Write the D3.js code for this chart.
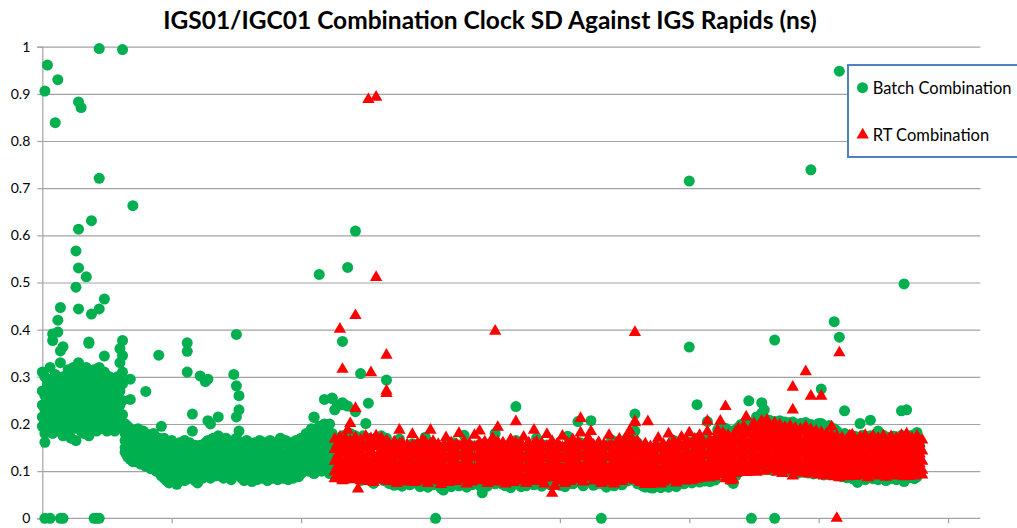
<!DOCTYPE html>
<html>
<head>
<meta charset="utf-8">
<script src="https://cdn.jsdelivr.net/npm/d3@7"></script>
<style>
  html, body { margin: 0; padding: 0; background: #fff; }
  svg { display: block; }
</style>
</head>
<body>
<svg id="chart" width="1017" height="528"></svg>
<script>
// Daily clock SD, in picoseconds (1000 ps = 1 ns).
// Each row: [day, value, value, ...] — one value per satellite shown for that day.
const batchRows = [
[0,310,270,240,215,195],[1,300,260,230,205,180,161,906,0],[2,285,250,225,200,185,961],[3,320,275,245,220,190,0],
[4,295,265,235,210,180,391,377],[5,305,280,250,225,200,839],[6,290,260,230,215,185,930,420,395],[7,330,285,255,220,195,447,355,0],
[8,300,270,240,210,175,364,0],[9,280,255,230,205,185],[10,315,290,250,225,200],[11,295,265,235,210,170],
[12,320,275,245,215,190],[13,300,280,250,220,165,567,490],[14,330,290,255,230,200,883,613,531,444],[15,310,270,240,215,185,871],
[16,295,260,235,205,180],[17,320,285,250,220,195,512],[18,305,265,230,210,175,374,371],[19,290,270,245,215,190,631,433],
[20,315,280,250,225,200,0],[21,300,260,235,210,185,0],[22,320,285,255,230,200,996,721,444,0],[23,295,270,240,215,190],
[24,310,280,250,220,195,465,344],[25,285,260,235,210,185],[26,300,270,245,220,200],[27,290,265,240,215,195],
[28,280,255,230,210,185],[29,300,270,250,225,200],[30,360,330,300,270,240,210],[31,377,345,310,285,250,220,190,994],
[32,200,180,165,150,140],[33,195,175,160,145,130],[34,295,252,190,170,150,135,125],[35,185,165,150,135,120,663],
[36,180,160,145,130,120],[37,190,170,150,140,125],[38,175,160,145,130,115],[39,185,165,150,135,120],
[40,269,180,160,140,125,110],[41,175,155,140,125,110],[42,170,150,135,120,105],[43,180,160,140,125,110],
[44,165,150,135,120,100],[45,346,170,145,130,115,100],[46,195,160,130,110,90],[47,170,145,120,100,85],
[48,160,135,115,95,80],[49,150,130,110,90,75],[50,165,140,120,100,85],[51,155,135,115,95,80],
[52,145,125,105,90,72],[53,160,135,115,95,80],[54,150,130,110,95,85],[55,165,140,120,100,80],
[56,372,354,310,155,130,110,90],[57,160,140,120,100,85],[58,221,185,150,125,105,90],[59,155,130,110,95,80],
[60,150,125,105,90,75],[61,302,155,130,110,90],[62,150,125,105,85],[63,290,160,135,115,95],
[64,295,207,165,140,115,95],[65,200,150,125,100,85],[66,170,140,115,95],[67,160,130,110,90],
[68,215,175,145,120,100],[69,165,135,110,90],[70,155,130,105,85],[71,170,140,115,95],
[72,160,130,110,88],[73,150,125,100,82],[74,305,165,135,110,90],[75,390,281,215,170,140,115,95],
[76,260,230,185,150,120,100],[77,160,130,105,85],[78,150,125,100,80],[79,165,135,110,90],
[80,155,125,105,85],[81,145,120,100,78],[82,160,130,110,90],[83,150,125,100,82],
[84,165,140,115,95],[85,155,130,105,85],[86,160,135,110,90],[87,150,120,100,80],
[88,165,140,115,92],[89,155,125,105,85],[90,160,130,110,88],[91,150,125,100,82],
[92,170,140,115,95],[93,160,130,105,85],[94,165,135,110,90],[95,155,125,100,82],
[96,160,135,110,90],[97,150,125,105,85],[98,165,140,115,95],[99,160,130,108,88],
[100,170,140,115,95],[101,166,150,125,100],[102,180,150,125,105],[103,175,145,120,100],
[104,190,160,130,105],[105,215,214,170,140,115,95],[106,185,155,125,100],[107,517,195,160,130,105],
[108,180,150,125,100],[109,252,200,165,135,110],[110,190,160,130,105],[111,200,170,140,115,95],
[112,255,254,180,150,120,100],[113,230,165,120,90],[114,240,170,125,95],[115,240,160,115,85],
[116,375,245,175,120,90],[117,240,165,125,95],[118,532,238,170,120,85],[119,180,130,95],
[120,165,120,90],[121,609,226,175,125,90],[122,170,120,85],[123,307,160,115,80],
[124,175,125,90],[125,201,160,115,85],[126,244,170,120,90],[127,165,115,80],
[128,160,115,74],[129,170,120,88],[130,165,115,85],[131,175,125,90],
[132,160,115,80],[133,293,170,120,85],
[134,150,118,90,74],[135,142,108,80],[136,155,128,97,70],[137,146,114,86,76],
[138,168,123,93],[139,148,105,80,68],[140,140,127,96,77],[141,153,116,88],
[142,145,102,82,71],[143,158,132,94,75],[144,141,111,85],[145,150,121,91,73],
[146,144,106,79,67],[147,152,128,97],[148,172,115,87,74],[149,139,109,83,66],
[150,149,125,92],[151,146,103,81,71],[152,0,155,119,89],[153,142,131,95,76],
[154,150,107,80,64],[155,146,122,90,60],[156,153,112,84],[157,140,129,98,73],
[158,151,104,82,67],[159,160,117,89],[160,144,126,93,75],[161,148,108,81,69],
[162,142,120,88],[163,176,113,91,74],[164,139,101,78,66],[165,150,127,96],
[166,145,110,84,71],[167,154,124,92,77],[168,141,105,80],[169,148,119,87,70],
[170,146,114,86,54],[171,156,130,95],[172,143,107,82,68],[173,158,121,90,75],
[174,147,111,84],[175,180,126,93,73],[176,149,116,88,78],[177,142,104,81],
[178,155,128,97,72],[179,146,113,85,69],[180,151,120,91],[181,140,106,80,65],
[182,157,124,94,76],[183,237,165,118,89],[184,152,129,98,79],[185,145,109,83,67],
[186,150,123,92],[187,141,105,79,69],[188,149,117,88,74],[189,139,102,77],
[190,146,126,95,71],[191,170,114,86,77],[192,142,108,82],[193,148,121,91,68],
[194,155,116,87,75],[195,143,103,80],[196,150,127,94,72],[197,140,110,83,70],
[198,146,119,89],[199,153,112,85,76],[200,145,124,93,70],[201,149,107,81],
[202,141,118,88,67],[203,174,130,97,79],[204,147,111,84],[205,151,122,91,73],
[206,156,115,87,78],[207,205,150,128,95],[208,160,119,89,75],[209,150,109,82,69],
[210,145,124,93],[211,154,116,88,77],[212,207,158,127,96],[213,148,111,84,70],
[214,142,104,79],[215,151,120,90,74],[216,0,145,113,85],[217,150,125,94,72],
[218,141,106,80,66],[219,147,118,89],[220,166,128,96,77],[221,144,109,83,69],
[222,149,121,91],[223,156,114,86,76],[224,146,126,95,71],[225,152,112,85],
[226,170,123,92,79],[227,176,130,98,81],[228,168,118,89],[229,221,185,127,94,83],
[230,160,115,87,73],[231,150,122,91],[232,144,108,80,69],[233,149,117,86,66],
[234,142,103,76],[235,147,114,84,65],[236,140,106,78,64],[237,145,119,88],
[238,151,110,82,71],[239,139,116,85,65],[240,144,105,79],[241,149,120,89,72],
[242,141,111,83,66],[243,145,123,90],[244,165,114,85,74],[245,142,107,80,67],
[246,147,125,93],[247,153,118,88,77],[248,149,112,84,73],[249,156,128,95],
[250,715,363,162,121,90,79],[251,151,115,86,75],[252,158,129,97],[253,241,170,122,92,81],
[254,156,117,88,77],[255,162,131,98],[256,155,119,89,79],[257,205,168,126,94],
[258,158,116,87,78],[259,153,124,93],[260,160,120,90,81],
[261,188,143,104,96],[262,193,135,101],[263,183,147,108,94],[264,191,139,103,97],
[265,178,128,90,86],[266,185,134,95,80],[267,181,124,88,74],[268,188,139,100,90],
[269,193,145,106],[270,199,151,110,100],[271,191,143,104],[272,197,149,112,102],
[273,249,203,153,114],[274,0,195,148,108,101],[275,201,154,113],[276,215,208,158,116,104],
[277,212,163,119],[278,245,223,168,121,106],[279,230,213,163,117],[280,203,155,113,104],
[281,208,158,116],[282,199,151,110,102],[283,378,0,205,155,114],[284,201,153,111,103],
[285,207,157,115],[286,197,149,108,100],[287,204,153,113],[288,199,151,109,101],
[289,203,155,112],[290,204,153,110,99],[291,198,149,107],[292,193,145,105,96],
[293,201,151,109],[294,197,148,107,98],[295,203,153,111],[296,195,147,105,96],
[297,739,199,151,109],[298,193,145,103,94],[299,197,149,107],[300,201,153,109,96],
[301,274,201,151,107],[302,193,143,103,92],[303,189,141,101],[304,197,147,105,93],
[305,191,141,99],
[306,417,190,135,95],[307,185,130,90],
[308,948,384,180,128,92],[309,175,125,88],[310,228,180,130,92],[311,170,122,86],
[312,176,126,90],[313,168,118,84],[314,174,124,88],[315,165,115,76],
[316,201,170,120,86],[317,176,126,90],[318,166,116,82],[319,172,122,86],
[320,208,175,125,90],[321,168,118,84],[322,174,124,88],[323,185,160,115,82],
[324,170,120,86],[325,176,126,90],[326,164,114,80],[327,172,122,86],
[328,168,118,84],[329,174,124,88],[330,166,116,82],[331,172,122,86],
[332,228,176,126,90],[333,497,168,118,78],[334,230,174,124,88],[335,170,120,86],
[336,176,126,90],[337,166,116,84],[338,182,172,122,88],[339,154,125,95]
];

const rtRows = [
[113,168,146,121,99,84],[114,157,133,110,92],[115,401,172,150,126,104,88],[116,316,161,139,115,95,80],
[117,170,148,122,100],[118,187,155,131,108,89],[119,201,164,141,118,96,82],[120,152,129,106,86],
[121,430,233,171,147,123,101,85],[122,158,136,112,91,62],[123,166,143,119,97,80],[124,151,128,104,84],
[125,174,150,126,103,87],[126,888,160,138,115,93,78],[127,309,169,144,121,99],[128,154,131,108,88,76],
[129,893,511,175,152,127,104,86],[130,161,137,113,92],[131,170,146,123,100,82],[132,149,127,105,85],
[133,346,270,265,164,141,117,95,79],
[134,158,136,113,92,78],[135,149,127,105,86],[136,162,140,117,96,81],[137,152,130,107,88,74],
[138,187,157,135,112,91],[139,160,139,116,95,80],[140,150,128,106,87],[141,156,134,111,90,77],
[142,147,125,103,84],[143,178,154,132,109,89],[144,153,131,108,88,76],[145,159,137,114,94],
[146,148,126,104,85,79],[147,166,155,133,110,90],[148,161,139,116,95,80],[149,151,129,106,86,74],
[150,187,158,136,113,93],[151,163,141,118,97,82],[152,150,128,105,86],[153,157,135,112,92,79],
[154,146,124,101,82,72],[155,154,132,109,89],[156,171,149,126,104,86],[157,152,130,107,87,76],
[158,160,138,115,95,81],[159,149,127,104,85],[160,156,134,111,91,78],[161,180,153,131,108,88],
[162,154,132,109,89],[163,162,140,117,96,82],[164,148,126,103,84,73],[165,158,136,113,93],
[166,151,129,106,87,77],[167,176,150,128,105,86],[168,152,130,107,88],[169,185,160,138,115,94,80],
[170,155,133,110,90],[171,162,140,117,96,82],[172,149,127,104,85,74],[173,157,135,112,92],
[174,170,148,125,103,86],[175,397,153,131,108,89,77],[176,193,162,140,117,96,82],[177,151,129,106,87],
[178,160,138,115,94,80],[179,148,126,103,84,73],[180,156,134,111,91],[181,167,145,122,100,84],
[182,153,131,108,88,76],[183,205,161,139,116,95,81],[184,150,128,105,86],[185,158,136,113,93,79],
[186,172,150,127,105],[187,152,130,107,87,74],[188,160,138,115,94,81],[189,147,125,102,84],
[190,187,158,136,113,92,78],[191,162,140,117,96,82],[192,151,129,106,86],[193,159,137,114,93,79],
[194,149,127,104,85,73],[195,178,153,131,108,89],[196,155,133,110,90],[197,163,141,118,96,53],
[198,150,128,105,86,68],[199,158,136,113,93,79],[200,152,130,107,88],[201,174,151,129,106,87],
[202,149,127,104,85,74],[203,160,138,115,94],[204,154,132,109,89,78],[205,167,145,122,100,85],
[206,156,134,111,91],[207,162,140,117,96,82],[208,212,181,155,132,109,90],[209,152,130,107,88,77],
[210,159,137,114,94],[211,170,148,125,103,86],[212,184,158,135,112,92],[213,155,133,110,90,79],
[214,149,127,104,85],[215,161,139,116,95,81],[216,148,126,103,84,74],[217,157,135,112,92],
[218,151,129,106,87,77],[219,176,152,129,106,86],[220,155,133,110,90],[221,147,125,102,83,73],
[222,160,138,115,94,80],[223,168,146,123,101],[224,153,131,108,88,78],[225,162,140,117,96,83],
[226,175,152,128,106,88],[227,186,160,136,112,92],[228,166,144,120,98,84],[229,394,205,203,160,138,115,94,81],
[230,163,141,117,95],[231,154,132,109,89,76],[232,148,126,103,83],[233,158,135,111,90,72],
[234,205,146,124,101,81],[235,152,130,106,85,72],[236,145,123,100,80],[237,156,134,111,90,75],
[238,170,147,123,100],[239,148,126,103,83,73],[240,157,135,112,91,77],[241,146,124,101,81],
[242,179,156,132,108,89],[243,151,129,106,86],[244,163,141,118,96,82],[245,150,128,105,85,75],
[246,158,136,113,92],[247,172,150,126,103,86],[248,155,133,110,90,79],[249,164,142,119,97],
[250,181,156,131,108,90],[251,158,136,113,92,80],[252,168,146,123,101],[253,160,138,115,94,83],
[254,176,152,129,106,89],[255,164,142,119,98,85],[256,155,133,110,91],[257,206,184,157,133,110,92],
[258,166,144,121,99,86],[259,157,135,112,92],[260,170,148,125,103,88],
[261,186,162,138,115,96],[262,206,173,150,126,104],[263,181,157,133,110,93],[264,237,168,145,121,99,84],
[265,176,152,128,105],[266,165,141,117,95,80],[267,172,147,122,99,82],[268,184,160,136,113,95],
[269,190,166,142,118,100],[270,177,153,129,106],[271,195,171,147,123,104],[272,215,186,162,138,115,97],
[273,180,156,132,109],[274,192,168,144,120,102],[275,201,175,151,127,106],[276,186,162,138,115,98],
[277,197,173,149,125],[278,206,180,156,132,110],[279,189,165,141,118,100],[280,208,196,172,148,124,104],
[281,183,159,135,112],[282,194,170,146,122,103],[283,202,177,153,129,108],[284,187,163,139,116,98],
[285,198,174,150,126],[286,181,157,133,110,95],[287,193,169,145,121,102],[288,185,161,137,114],
[289,196,172,148,124,105],[290,278,230,182,158,134,111,90],[291,191,167,143,119,101],[292,178,154,130,108],
[293,189,165,141,117,99],[294,184,160,136,113,96],[295,311,194,170,146,122],[296,180,156,132,110,94],
[297,259,188,164,140,116,98],[298,176,152,128,106],[299,185,161,137,114,97],[300,174,150,127,105,92],
[301,259,182,158,134,111],[302,170,147,124,103,90],[303,179,155,131,109,94],[304,168,145,122,101],
[305,194,177,153,129,107,92],[306,166,143,120,100,88],[307,0,174,150,126,105],[308,351,162,139,116,96,86],
[309,171,147,123,102,90],[310,158,135,113,94],[311,168,144,121,101,88],[312,175,151,127,105],
[313,177,160,137,114,95],[314,169,146,122,101,89],[315,156,134,112,93],[316,172,148,124,103,91],
[317,163,140,117,97],[318,176,152,128,106,92],[319,160,137,115,96,86],[320,168,145,122,101],
[321,174,150,126,105,93],[322,157,135,113,94],[323,170,147,124,103,90],[324,162,139,116,97],
[325,175,151,127,106,92],[326,159,136,114,95,87],[327,167,144,121,100],[328,173,149,125,104,91],
[329,158,136,114,96],[330,170,146,123,102,90],[331,164,141,118,98],[332,176,152,128,107,94],
[333,161,138,116,97,88],[334,179,168,145,122,101],[335,157,135,114,96,89],[336,170,147,124,104],
[337,163,140,118,99,90],[338,174,150,127,106,94],[339,158,137,116,98],[340,166,143,121,102,92]
];

const yTicks = [0, 0.1, 0.2, 0.3, 0.4, 0.5, 0.6, 0.7, 0.8, 0.9, 1];
const yTickLabels = ["0", "0.1", "0.2", "0.3", "0.4", "0.5", "0.6", "0.7", "0.8", "0.9", "1"];
const xTicks = [0, 50, 100, 150, 200, 250, 300, 350];
const seriesNames = ["Batch Combination", "RT Combination"];
const titleText = "IGS01/IGC01 Combination Clock SD Against IGS Rapids (ns)";

const GREEN = "#00B050", RED = "#FF0000", GRID = "#a3a3a3";
const FONT = "Lato, 'Open Sans', sans-serif";

const svg = d3.select("#chart");
const plot = { left: 42.3, right: 980.4, top: 46.7, bottom: 518.3 };

const x = d3.scaleLinear().domain([0, 362.5]).range([plot.left, plot.right]);
const y = d3.scaleLinear().domain([0, 1]).range([plot.bottom, plot.top]);

// gridlines
svg.append("g")
  .attr("transform", `translate(${plot.left},0)`)
  .call(d3.axisLeft(y).tickValues(yTicks.slice(1)).tickSize(-(plot.right - plot.left)).tickFormat(""))
  .call(g => g.select(".domain").remove())
  .call(g => g.selectAll("line").attr("stroke", GRID).attr("stroke-width", 1.2));

// y axis with labels
svg.append("g")
  .attr("transform", `translate(${plot.left},0)`)
  .call(d3.axisLeft(y).tickValues(yTicks).tickSize(5).tickPadding(7)
    .tickFormat((d, i) => yTickLabels[i]))
  .call(g => g.select(".domain").attr("stroke", GRID).attr("stroke-width", 1.2))
  .call(g => g.selectAll("line").attr("stroke", GRID).attr("stroke-width", 1.2))
  .call(g => g.selectAll("text").attr("fill", "#000").attr("font-family", FONT).attr("font-size", 14));

// x axis (tick marks only)
svg.append("g")
  .attr("transform", `translate(0,${plot.bottom})`)
  .call(d3.axisBottom(x).tickValues(xTicks).tickSize(5).tickFormat(""))
  .call(g => g.select(".domain").attr("stroke", GRID).attr("stroke-width", 1.2).attr("d", `M${plot.left},0H${plot.right}`))
  .call(g => g.selectAll("line").attr("stroke", GRID).attr("stroke-width", 1.2));

const toPoints = rows => rows.flatMap(([day, ...vals]) => vals.map(v => ({ day, sd: v / 1000 })));
const batchPts = toPoints(batchRows);
const rtPts = toPoints(rtRows);

svg.append("g").selectAll("circle")
  .data(batchPts).join("circle")
  .attr("cx", d => x(d.day)).attr("cy", d => y(d.sd))
  .attr("r", 5.5).attr("fill", GREEN);

const tri = d3.symbol().type(d3.symbolTriangle).size(66);
svg.append("g").selectAll("path")
  .data(rtPts).join("path")
  .attr("d", tri)
  .attr("transform", d => `translate(${x(d.day)},${y(d.sd)})`)
  .attr("fill", RED);

// title
const title = svg.append("text")
  .attr("x", 490).attr("y", 29).attr("text-anchor", "middle")
  .attr("font-family", FONT).attr("font-weight", "bold")
  .attr("font-size", 24).attr("fill", "#000")
  .text(titleText);
{
  const w = title.node().getComputedTextLength();
  title.attr("font-size", 24 * 654 / w);
}

// legend
const lg = svg.append("g");
lg.append("rect").attr("x", 848).attr("y", 65).attr("width", 180).attr("height", 92)
  .attr("fill", "#fff").attr("stroke", "#4F81BD").attr("stroke-width", 2);
lg.append("circle").attr("cx", 862.5).attr("cy", 87.7).attr("r", 5.5).attr("fill", GREEN);
lg.append("path").attr("d", tri).attr("transform", "translate(862.7,135)").attr("fill", RED);
const legendText = lg.selectAll("text.lbl").data(seriesNames).join("text")
  .attr("class", "lbl")
  .attr("x", 872.7).attr("y", (d, i) => i === 0 ? 93.5 : 140.5)
  .attr("font-family", FONT).attr("font-size", 16).attr("fill", "#000")
  .text(d => d);
{
  const w = legendText.nodes()[0].getComputedTextLength();
  legendText.attr("font-size", 16 * 139 / w);
}
</script>
</body>
</html>
